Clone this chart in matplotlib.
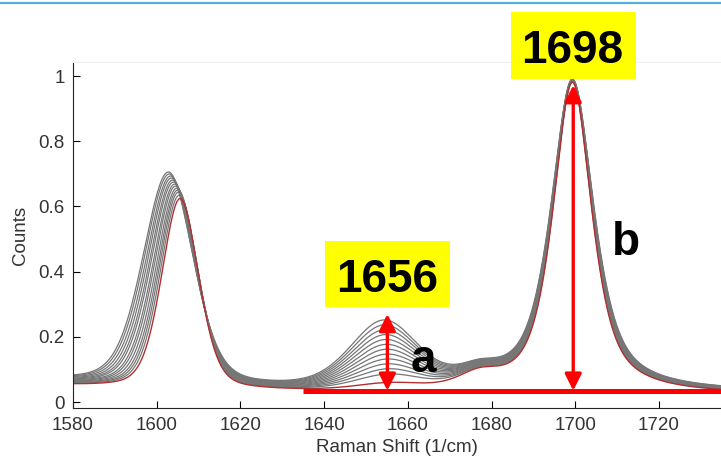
import numpy as np
import matplotlib
matplotlib.use("Agg")
import matplotlib.pyplot as plt
from matplotlib.lines import Line2D
from matplotlib.patches import Rectangle

# Band parameters of the spectral series.
# Spectra are ordered from the first (top, grey) to the last (red).
pos_1600 = [1602.8, 1603.0, 1603.3, 1603.5, 1603.8, 1604.0, 1604.3,
            1604.5, 1604.8, 1605.0, 1605.2, 1605.4, 1605.6]
amp_1600 = [0.652, 0.647, 0.642, 0.637, 0.632, 0.627, 0.622,
            0.617, 0.612, 0.607, 0.602, 0.594, 0.585]
left_w_1600 = [7.2, 7.05, 6.9, 6.7, 6.55, 6.4, 6.2, 6.05, 5.9, 5.7, 5.55, 5.4, 5.2]
right_w_1600 = [7.0, 6.85, 6.7, 6.55, 6.4, 6.25, 6.1, 5.95, 5.8, 5.65, 5.5, 5.35, 5.2]

pos_1656 = [1654.3, 1654.4, 1654.5, 1654.6, 1654.7, 1654.8, 1654.9,
            1655.0, 1655.1, 1655.2, 1655.3, 1655.4, 1655.5]
amp_1656 = [0.20, 0.186, 0.172, 0.158, 0.144, 0.13, 0.116, 0.102, 0.088, 0.074, 0.06, 0.045, 0.02]
amp_1677 = 0.04
amp_1698 = 0.955
width_1698 = [6.1, 6.05, 6.0, 5.95, 5.9, 5.85, 5.8, 5.75, 5.7, 5.65, 5.6, 5.55, 5.5]
base_scale = [1.3, 1.275, 1.25, 1.225, 1.2, 1.175, 1.15, 1.125, 1.1, 1.075, 1.05, 1.025, 1.0]

x_ticks = [1580, 1600, 1620, 1640, 1660, 1680, 1700, 1720]
y_ticks = [0, 0.2, 0.4, 0.6, 0.8, 1]
y_ticklabels = ["0", "0.2", "0.4", "0.6", "0.8", "1"]

label_a = (1655.1, 0.035, 0.27)      # x, bottom, top of arrow a
label_b = (1699.5, 0.035, 0.972)     # x, bottom, top of arrow b
baseline_level = 0.035


def pvoigt(x, c, w, eta):
    d = ((x - c) / w) ** 2
    return eta / (1 + d) + (1 - eta) * np.exp(-np.log(2) * d)


def spectrum(x, i):
    base = (0.022 + 0.026 * np.exp(-(x - 1580) / 45.0)) * base_scale[i]
    w1 = np.where(x < pos_1600[i], left_w_1600[i], right_w_1600[i])
    y = base + amp_1600[i] * pvoigt(x, pos_1600[i], w1, 0.3)
    y = y + amp_1656[i] * pvoigt(x, pos_1656[i], 9.5, 0.3)
    y = y + amp_1677 * pvoigt(x, 1677.0, 6.0, 0.5)
    y = y + amp_1698 * pvoigt(x, 1699.3, width_1698[i], 0.7)
    return y


W, H = 721, 459
fig = plt.figure(figsize=(W / 100, H / 100), dpi=100)
ax = fig.add_axes([73 / W, 1 - 408.3 / H, 1 - 73 / W, (408.3 - 62) / H])

plt.rcParams["font.family"] = ["Liberation Sans", "DejaVu Sans"]

xs = np.linspace(1575, 1740, 1500)
n = len(amp_1600)
for i in range(n - 1):
    ax.plot(xs, spectrum(xs, i), color="#767676", lw=0.9)
ax.plot(xs, spectrum(xs, n - 1), color="#b03030", lw=1.0)

ax.set_xlim(1580, 1580 + (W - 73) / 4.186)
ax.set_ylim(-0.019, 1.043)
ax.set_xticks(x_ticks)
ax.set_yticks(y_ticks)
ax.set_yticklabels(y_ticklabels)
ax.tick_params(direction="in", length=5, width=0.8, labelsize=13.5,
               labelcolor="#333333", pad=6)
for lab in ax.get_xticklabels() + ax.get_yticklabels():
    lab.set_family("Liberation Sans")
ax.spines["right"].set_visible(False)
ax.spines["top"].set_color("#eeeeee")
ax.spines["left"].set_color("#222222")
ax.spines["bottom"].set_color("#222222")
ax.set_xlabel("Raman Shift (1/cm)", fontsize=13.5, color="#333333",
              family="Liberation Sans", labelpad=4)
ax.set_ylabel("Counts", fontsize=13.5, color="#333333",
              family="Liberation Sans", labelpad=7)

# red annotations
ax.plot([1635, 1740], [baseline_level, baseline_level], color="red", lw=3.6,
        solid_capstyle="butt", clip_on=False, zorder=5)
for xa, y0, y1 in (label_a, label_b):
    ax.annotate("", xy=(xa, y1), xytext=(xa, y0),
                arrowprops=dict(arrowstyle="<|-|>,head_length=1.0,head_width=0.5",
                                color="red", lw=2.4, mutation_scale=10,
                                shrinkA=0, shrinkB=0), zorder=6)

bold = dict(fontsize=33, fontweight="bold", family="Liberation Sans",
            color="black", ha="center", va="baseline", zorder=8)
ax.text(1663.6, 0.093, "a", **bold)
ax.text(1712.1, 0.451, "b", **bold)

# yellow labels
for (x0, x1, y0, y1), (tx, ty, s) in (
        ((1640.2, 1670.1, 0.291, 0.494), (1655.1, 0.338, "1656")),
        ((1684.6, 1714.5, 0.991, 1.196), (1699.3, 1.040, "1698"))):
    ax.add_patch(Rectangle((x0, y0), x1 - x0, y1 - y0, facecolor="#ffff00",
                           edgecolor="none", clip_on=False, zorder=7))
    ax.text(tx, ty, s, clip_on=False, **bold)

fig.add_artist(Line2D([0, 1], [1 - 3 / H, 1 - 3 / H], transform=fig.transFigure,
                      color="#52afdc", lw=1.6))

fig.savefig("out.png", dpi=100)
